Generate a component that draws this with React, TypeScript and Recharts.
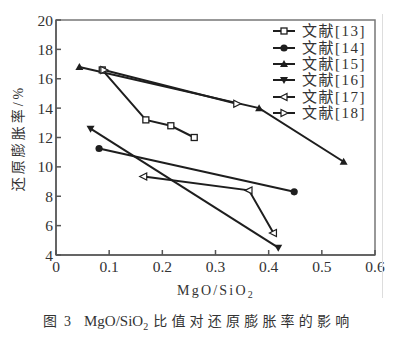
import React from 'react';
import { ComposedChart, Line, XAxis, YAxis, ReferenceArea } from 'recharts';

const xTicks = [0, 0.1, 0.2, 0.3, 0.4, 0.5, 0.6];
const yTicks = [4, 6, 8, 10, 12, 14, 16, 18, 20];
const seriesNames = ['文献[13]', '文献[14]', '文献[15]', '文献[16]', '文献[17]', '文献[18]'];

const ref13 = [
  { x: 0.087, y: 16.6 },
  { x: 0.169, y: 13.2 },
  { x: 0.216, y: 12.8 },
  { x: 0.26, y: 12.0 },
];
const ref14 = [
  { x: 0.081, y: 11.25 },
  { x: 0.448, y: 8.3 },
];
const ref15 = [
  { x: 0.044, y: 16.8 },
  { x: 0.382, y: 14.0 },
  { x: 0.541, y: 10.35 },
];
const ref16 = [
  { x: 0.065, y: 12.6 },
  { x: 0.418, y: 4.5 },
];
const ref17 = [
  { x: 0.165, y: 9.35 },
  { x: 0.363, y: 8.4 },
  { x: 0.409, y: 5.5 },
];
const ref18 = [
  { x: 0.09, y: 16.6 },
  { x: 0.34, y: 14.3 },
];

const INK = '#1e1e1e';

const Square = (p: any) => (
  <rect key={`s${p.index}`} x={p.cx - 3} y={p.cy - 3} width={6} height={6} fill="#fff" stroke={INK} strokeWidth={1.3} />
);
const Dot = (p: any) => <circle key={`c${p.index}`} cx={p.cx} cy={p.cy} r={3.6} fill={INK} />;
const TriUp = (p: any) => (
  <polygon key={`u${p.index}`} points={`${p.cx},${p.cy - 4} ${p.cx - 4},${p.cy + 3} ${p.cx + 4},${p.cy + 3}`} fill={INK} />
);
const TriDown = (p: any) => (
  <polygon key={`d${p.index}`} points={`${p.cx},${p.cy + 4} ${p.cx - 4},${p.cy - 3} ${p.cx + 4},${p.cy - 3}`} fill={INK} />
);
const TriLeft = (p: any) => (
  <polygon key={`l${p.index}`} points={`${p.cx - 4},${p.cy} ${p.cx + 3},${p.cy - 3.5} ${p.cx + 3},${p.cy + 3.5}`} fill="#fff" stroke={INK} strokeWidth={1.2} />
);
const TriRight = (p: any) => (
  <polygon key={`r${p.index}`} points={`${p.cx + 4},${p.cy} ${p.cx - 3},${p.cy - 3.5} ${p.cx - 3},${p.cy + 3.5}`} fill="#fff" stroke={INK} strokeWidth={1.2} />
);

const series = [
  { name: seriesNames[0], data: ref13, dot: Square },
  { name: seriesNames[1], data: ref14, dot: Dot },
  { name: seriesNames[2], data: ref15, dot: TriUp },
  { name: seriesNames[3], data: ref16, dot: TriDown },
  { name: seriesNames[4], data: ref17, dot: TriLeft },
  { name: seriesNames[5], data: ref18, dot: TriRight },
];

const serif = '"Liberation Serif", "DejaVu Serif", "Noto Sans CJK SC", serif';
const cjk = '"Liberation Serif", "Noto Sans CJK SC", serif';

export default function App() {
  return (
    <div style={{ position: 'absolute', left: 0, top: 0, width: 408, height: 351, background: '#fff' }}>
      <ComposedChart width={408} height={351} margin={{ top: 20, right: 33, bottom: 66, left: 16 }}>
        <XAxis
          dataKey="x"
          type="number"
          domain={[0, 0.6]}
          ticks={xTicks}
          allowDuplicatedCategory={false}
          tickSize={-5}
          tickMargin={11}
          height={30}
          stroke="#555"
          strokeWidth={1.5}
          tick={{ fill: '#333', fontSize: 15.5, fontFamily: serif }}
          tickFormatter={(v: number) => (v === 0 ? '0' : String(v))}
        />
        <YAxis
          type="number"
          domain={[4, 20]}
          ticks={yTicks}
          tickSize={-5}
          tickMargin={8}
          width={40}
          stroke="#555"
          strokeWidth={1.5}
          tick={{ fill: '#333', fontSize: 15.5, fontFamily: serif }}
        />
        <ReferenceArea x1={0} x2={0.6} y1={4} y2={20} fill="none" stroke="#777" strokeWidth={1.5} ifOverflow="visible" />
        {series.map((s) => (
          <Line
            key={s.name}
            name={s.name}
            data={s.data}
            dataKey="y"
            type="linear"
            stroke={INK}
            strokeWidth={2}
            dot={s.dot}
            activeDot={false}
            isAnimationActive={false}
          />
        ))}
        <text x={216} y={295} textAnchor="middle" fontSize={14} fontFamily={serif} fill="#333" letterSpacing={2.2}>
          MgO/SiO<tspan fontSize={10} dy={3}>2</tspan>
        </text>
        <text
          x={18}
          y={138}
          transform="rotate(-90 18 138)"
          textAnchor="middle"
          dominantBaseline="central"
          fontSize={14}
          fontFamily={cjk}
          fill="#333"
          letterSpacing={3}
        >
          还原膨胀率/%
        </text>
      </ComposedChart>
      <div style={{ position: 'absolute', left: 270, top: 23, fontFamily: cjk, color: '#333' }}>
        {series.map((s, i) => {
          const D = s.dot;
          return (
            <div key={s.name} style={{ height: 16.4, display: 'flex', alignItems: 'center' }}>
              <svg width={28} height={12} style={{ display: 'block' }}>
                <line x1={3} y1={6} x2={25} y2={6} stroke={INK} strokeWidth={2} />
                <D cx={14} cy={6} index={i} />
              </svg>
              <span style={{ fontSize: 15, marginLeft: 4, letterSpacing: 1.5, lineHeight: '16px' }}>{s.name}</span>
            </div>
          );
        })}
      </div>
      <div style={{ position: 'absolute', left: 382, top: 14, width: 1, height: 284, background: '#ddd' }} />
      <div
        style={{
          position: 'absolute',
          left: 43,
          top: 312,
          fontSize: 14,
          fontFamily: cjk,
          color: '#333',
          whiteSpace: 'nowrap',
          lineHeight: '18px',
        }}
      >
        <span>图</span>
        <span style={{ marginLeft: 7 }}>3</span>
        <span style={{ fontSize: 15, marginLeft: 13 }}>
          MgO/SiO<sub style={{ fontSize: 10 }}>2</sub>
        </span>
        <span style={{ letterSpacing: 4.2, marginLeft: 5 }}>比值对还原膨胀率的影响</span>
      </div>
    </div>
  );
}
